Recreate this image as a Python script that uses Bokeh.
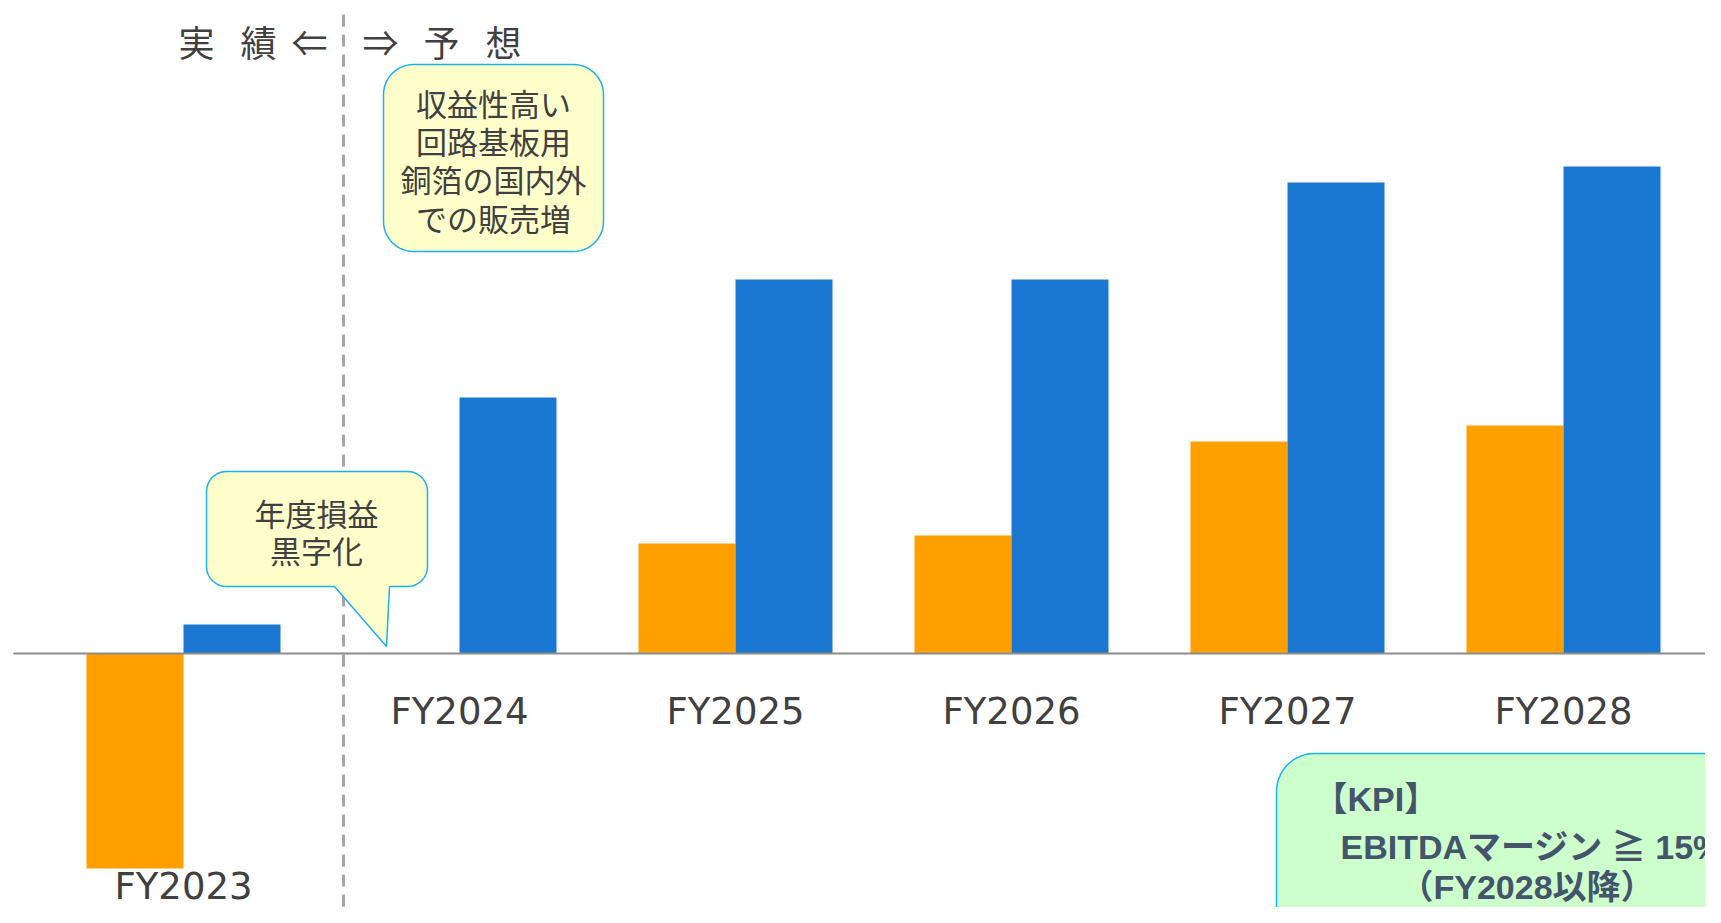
import numpy as np
from bokeh.plotting import figure
from bokeh.models import Range1d
from bokeh.core.properties import value
from bokeh.embed import file_html
from bokeh.resources import INLINE

# ---- data (arbitrary units, no axis shown) ----
categories = ["FY2023", "FY2024", "FY2025", "FY2026", "FY2027", "FY2028"]
net_income = [-215, 0, 110, 118, 212, 228]     # orange bars
ebitda = [29, 256, 374, 374, 471, 487]          # blue bars

header_left = ["実", "績", "⇐"]
header_right = ["⇒", "予", "想"]
callout_profit = ["年度損益", "黒字化"]
callout_sales = ["収益性高い", "回路基板用", "銅箔の国内外", "での販売増"]
kpi_lines = ["【KPI】", "EBITDAマージン ≧ 15%", "（FY2028以降）"]

# ---- layout helpers ----
W, H = 1705, 907
X0, U, Y0 = 183.0, 276.0, 653.0


def dx(px):
    return (px - X0) / U


def dy(py):
    return Y0 - py


p = figure(width=W, height=H,
           x_range=Range1d(dx(0), dx(W)),
           y_range=Range1d(dy(H), dy(0)),
           output_backend="svg", toolbar_location=None, min_border=0)
p.axis.visible = False
p.grid.visible = False
p.outline_line_color = None
p.background_fill_color = "white"
p.border_fill_color = "white"

xs = np.arange(len(categories))
bar_w = 97.0 / U
off = bar_w / 2

# divider dashed line
div_x = dx(343)
p.segment(x0=[div_x], y0=[dy(14)], x1=[div_x], y1=[dy(930)],
          line_color="#A6A6A6", line_width=3, line_dash="12 8")

p.vbar(x=xs - off, top=net_income, bottom=0, width=bar_w,
       fill_color="#FFA000", line_color=None)
p.vbar(x=xs + off, top=ebitda, bottom=0, width=bar_w,
       fill_color="#1A78D3", line_color=None)

# baseline
p.segment(x0=[dx(13)], y0=[0], x1=[dx(1725)], y1=[0],
          line_color="#8C8C8C", line_width=2)

# category labels
lab_y = [(min(v, 0) - 18) if v < 0 else -58 for v in net_income]
p.text(x=xs, y=lab_y, text=categories, text_font=value("DejaVu Sans"),
       text_font_size="37px", text_color="#404040",
       text_align="center", text_baseline="middle")


def rrect(x0, y0, x1, y1, r, ptr=None, n=14):
    pts = []

    def arc(cx, cy, a0, a1):
        for t in np.linspace(a0, a1, n):
            pts.append((cx + r * np.cos(t), cy + r * np.sin(t)))
    arc(x0 + r, y0 + r, np.pi, 1.5 * np.pi)
    arc(x1 - r, y0 + r, 1.5 * np.pi, 2 * np.pi)
    arc(x1 - r, y1 - r, 0, 0.5 * np.pi)
    if ptr is not None:
        br, bl, tip = ptr
        pts += [(br, y1), tip, (bl, y1)]
    arc(x0 + r, y1 - r, 0.5 * np.pi, np.pi)
    return [dx(a) for a, _ in pts], [dy(b) for _, b in pts]


cj = value("Noto Sans CJK JP")
edge = "#1CB0EC"

# callout: profit turnaround
cx_, cy_ = rrect(206, 471, 427, 586, 20, ptr=(389, 334, (386, 646)))
p.patch(cx_, cy_, fill_color="#FFFFCC", line_color=edge, line_width=1.5)
p.text(x=[dx(316)] * 2, y=[dy(512), dy(549)], text=callout_profit,
       text_font=cj, text_font_size="31px", text_color="#404040",
       text_align="center", text_baseline="middle")

# callout: sales increase
cx_, cy_ = rrect(383, 64, 603, 251, 30)
p.patch(cx_, cy_, fill_color="#FFFFCC", line_color=edge, line_width=1.5)
p.text(x=[dx(493)] * 4, y=[dy(102), dy(140), dy(178), dy(217)],
       text=callout_sales, text_font=cj, text_font_size="31px",
       text_color="#404040", text_align="center", text_baseline="middle")

# header
hx = [196, 258, 309, 380, 441, 503]
p.text(x=[dx(v) for v in hx], y=[dy(40)] * 6, text=header_left + header_right,
       text_font=cj, text_font_size="36px", text_color="#404040",
       text_align="center", text_baseline="middle")

# KPI box
cx_, cy_ = rrect(1276, 753, 1790, 945, 38)
p.patch(cx_, cy_, fill_color="#CCFFCC", line_color=edge, line_width=1.5)
p.text(x=[dx(1313), dx(1340), dx(1399)], y=[dy(798), dy(846), dy(886)],
       text=kpi_lines, text_font=value("Liberation Sans, Noto Sans CJK JP"),
       text_font_size="34px", text_font_style="bold", text_color="#44546A",
       text_align="left", text_baseline="middle")

open("out.html", "w").write(file_html(p, INLINE))
